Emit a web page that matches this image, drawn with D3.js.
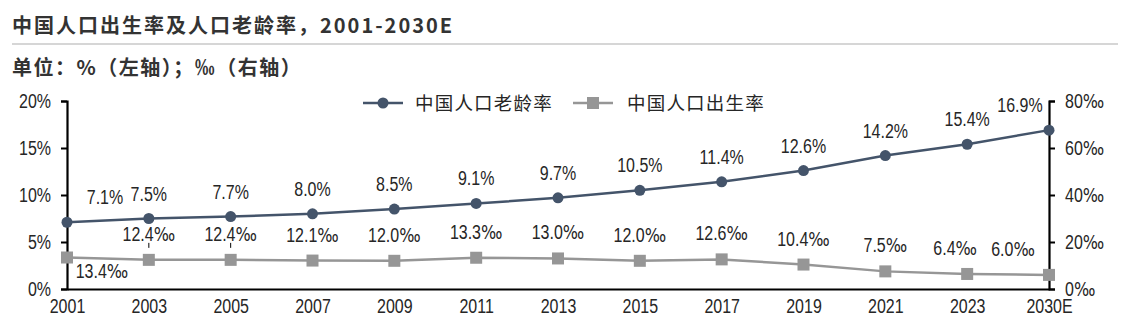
<!DOCTYPE html>
<html>
<head>
<meta charset="utf-8">
<script src="https://cdn.jsdelivr.net/npm/d3@7"></script>
<style>
  body { margin: 0; background: #fff; }
  svg { display: block; }
</style>
</head>
<body>
<svg id="chart" width="1140" height="328"></svg>
<script>
// Years on the horizontal axis
const years = ["2001", "2003", "2005", "2007", "2009", "2011", "2013", "2015", "2017", "2019", "2021", "2023", "2030E"];
// Share of population aged 65+ (%), left axis
const agingRate = [7.1, 7.5, 7.7, 8.0, 8.5, 9.1, 9.7, 10.5, 11.4, 12.6, 14.2, 15.4, 16.9];
// Birth rate (‰), right axis
const birthRate = [13.4, 12.4, 12.4, 12.1, 12.0, 13.3, 13.0, 12.0, 12.6, 10.4, 7.5, 6.4, 6.0];
// Axis ticks
const leftTicks = [0, 5, 10, 15, 20];
const rightTicks = [0, 20, 40, 60, 80];

const title = "中国人口出生率及人口老龄率，2001-2030E";
const subtitle = "单位：%（左轴）；‰（右轴）";
const seriesNames = ["中国人口老龄率", "中国人口出生率"];

const svg = d3.select("#chart");
const cjk = "'Noto Sans CJK SC', 'Noto Sans', sans-serif";
const num = "'Liberation Sans', Arial, sans-serif";
const permilleFont = "'DejaVu Sans', sans-serif";
const numSize = 19.5;
const squeeze = 0.82;          // horizontal condensing of numeric text
const textColor = "#262626";
const agingColor = "#44546A";
const birthColor = "#969696";

// Write a numeric string into a text node, giving the ‰ sign its own wider face
function setNumText(sel, str) {
  sel.text(null);
  const m = str.endsWith("‰");
  sel.append("tspan").text(m ? str.slice(0, -1) : str);
  if (m) sel.append("tspan").attr("font-family", permilleFont).text("‰");
}

// Header
svg.append("text").attr("x", 12).attr("y", 33)
  .attr("font-family", cjk).attr("font-weight", "bold").attr("font-size", 20)
  .attr("letter-spacing", 2).attr("fill", "#333").text(title);
svg.append("line").attr("x1", 12).attr("x2", 1118).attr("y1", 44).attr("y2", 44)
  .attr("stroke", "#c8c8c8").attr("stroke-width", 1.5);
svg.append("text").attr("x", 12).attr("y", 75)
  .attr("font-family", cjk).attr("font-weight", "bold").attr("font-size", 20)
  .attr("letter-spacing", 1.5).attr("fill", "#333").text(subtitle);

// Scales
const x = d3.scalePoint().domain(years).range([67, 1049]);
const yL = d3.scaleLinear().domain([0, 20]).range([289, 101]);
const yR = d3.scaleLinear().domain([0, 80]).range([289, 101]);

// Axes
const axisL = svg.append("g").attr("transform", "translate(67,0)")
  .call(d3.axisLeft(yL).tickValues(leftTicks).tickSize(6).tickFormat(d => d + "%"));
const axisR = svg.append("g").attr("transform", "translate(1049,0)")
  .call(d3.axisRight(yR).tickValues(rightTicks).tickSize(6).tickFormat(d => d + "‰"));
const axisB = svg.append("g").attr("transform", "translate(0,289)")
  .call(d3.axisBottom(x).tickSize(0).tickPadding(10));

[axisL, axisR, axisB].forEach(g => {
  g.selectAll("path.domain").attr("stroke", "#000").attr("stroke-width", 2.2);
  g.selectAll(".tick line").attr("stroke", "#000").attr("stroke-width", 2);
  g.selectAll("text").attr("font-family", num).attr("font-size", numSize).attr("fill", textColor)
    .attr("transform", `scale(${squeeze},1)`);
});
axisL.selectAll("text").attr("x", -16 / squeeze);
axisR.selectAll("text").attr("x", 16 / squeeze)
  .each(function (d) { setNumText(d3.select(this), d + "‰"); });

// Lines
const lineAging = d3.line().x((d, i) => x(years[i])).y(d => yL(d));
const lineBirth = d3.line().x((d, i) => x(years[i])).y(d => yR(d));

svg.append("path").datum(birthRate).attr("d", lineBirth)
  .attr("fill", "none").attr("stroke", birthColor).attr("stroke-width", 2.5);
svg.append("path").datum(agingRate).attr("d", lineAging)
  .attr("fill", "none").attr("stroke", agingColor).attr("stroke-width", 2.5);

// Markers
svg.selectAll("rect.birth").data(birthRate).join("rect").attr("class", "birth")
  .attr("x", (d, i) => x(years[i]) - 6).attr("y", d => yR(d) - 6)
  .attr("width", 12).attr("height", 12).attr("fill", birthColor);
svg.selectAll("circle.aging").data(agingRate).join("circle").attr("class", "aging")
  .attr("cx", (d, i) => x(years[i])).attr("cy", d => yL(d))
  .attr("r", 5.5).attr("fill", agingColor);

// Leader ticks linking the birth-rate labels of 2003 and 2005 to their markers
[1, 2].forEach(i => {
  svg.append("line")
    .attr("x1", x(years[i])).attr("x2", x(years[i]))
    .attr("y1", yR(birthRate[i]) - 17).attr("y2", yR(birthRate[i]) - 12)
    .attr("stroke", "#000").attr("stroke-width", 1);
});

// Condensed value label centred at (cx, baseline)
function valueLabel(cls, data, px, py, fmt) {
  svg.selectAll("g." + cls).data(data).join("g").attr("class", cls)
    .attr("transform", (d, i) => `translate(${px(d, i)},${py(d, i)}) scale(${squeeze},1)`)
    .append("text")
    .attr("text-anchor", "middle")
    .attr("font-family", num).attr("font-size", numSize).attr("fill", textColor)
    .each(function (d) { setNumText(d3.select(this), fmt(d)); });
}

const agingDx = [38, 0, 0, 0, 0, 0, 0, 0, 0, 0, 0, 0, -29];
valueLabel("agingLbl", agingRate,
  (d, i) => x(years[i]) + agingDx[i],
  d => yL(d) - 18,
  d => d.toFixed(1) + "%");

const birthDx = [35, 0, 0, 0, 0, 0, 0, 0, 0, 0, 0, -12, -36];
const birthDy = [20, -19, -19, -19, -19, -19, -19, -19, -19, -19, -19, -19, -19];
valueLabel("birthLbl", birthRate,
  (d, i) => x(years[i]) + birthDx[i],
  (d, i) => yR(d) + birthDy[i],
  d => d.toFixed(1) + "‰");

// Legend
const legend = svg.append("g").attr("transform", "translate(363,103)");
const colors = [agingColor, birthColor];
const legendX = [0, 210];
seriesNames.forEach((name, i) => {
  const g = legend.append("g").attr("transform", `translate(${legendX[i]},0)`);
  g.append("line").attr("x1", 0).attr("x2", 40).attr("y1", 0).attr("y2", 0)
    .attr("stroke", colors[i]).attr("stroke-width", 2.5);
  if (i === 0) g.append("circle").attr("cx", 20).attr("cy", 0).attr("r", 5.5).attr("fill", colors[i]);
  else g.append("rect").attr("x", 14).attr("y", -6).attr("width", 12).attr("height", 12).attr("fill", colors[i]);
  g.append("text").attr("x", i === 0 ? 52 : 54).attr("y", 0).attr("dy", "0.36em")
    .attr("font-family", cjk).attr("font-size", 18.5).attr("letter-spacing", 1.2)
    .attr("fill", textColor).text(name);
});
</script>
</body>
</html>
